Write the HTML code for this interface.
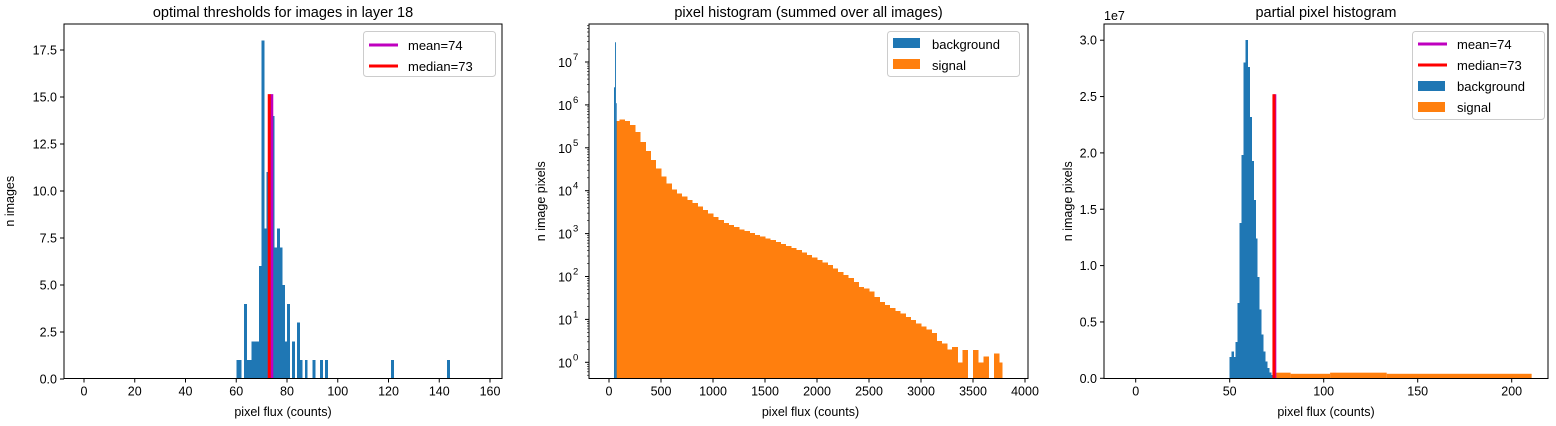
<!DOCTYPE html>
<html><head><meta charset="utf-8">
<style>
html,body{margin:0;padding:0;background:#fff;}
svg{display:block;font-family:"Liberation Sans","DejaVu Sans",sans-serif;}
text{fill:#000;}
rect.bar{shape-rendering:crispEdges;}
</style></head>
<body>
<svg id="fig" width="1556" height="426" viewBox="0 0 1556 426" xmlns="http://www.w3.org/2000/svg"></svg>
<script>
// ---------- Data: panel 1 (thresholds histogram) ----------
const p1BinStarts = [60,61,63,64,65,66,67,68,69,70,71,72,73,74,75,76,77,78,79,80,82,84,85,87,90,93,95,121,143];
const p1Counts    = [1, 1, 4, 1, 1, 2, 2, 2, 6, 18,8, 11,7, 14,7, 8, 7, 5, 2, 4, 2, 3, 1, 1, 1, 1, 1, 1, 1];
const p1Mean = 74, p1Median = 73, p1LineTop = 15.15;
const p1XTicks = [0,20,40,60,80,100,120,140,160];
const p1YTicks = [0,2.5,5,7.5,10,12.5,15,17.5];
// ---------- Data: panel 2 (log histogram; -1 = empty bin) ----------
const p2BgStarts = [48,58,67];
const p2BgLog    = [6.41,7.46,6.04];
const p2SigStarts = [74,100,150,200,250,300,350,400,450,500,550,600,650,700,750,800,850,900,950,1000,1050,1100,1150,1200,1250,1300,1350,1400,1450,1500,1550,1600,1650,1700,1750,1800,1850,1900,1950,2000,2050,2100,2150,2200,2250,2300,2350,2400,2450,2500,2550,2600,2650,2700,2750,2800,2850,2900,2950,3000,3050,3100,3150,3200,3250,3300,3350,3400,3450,3500,3550,3600,3650,3700,3750];
const p2SigLog    = [5.62,5.66,5.63,5.53,5.37,5.14,4.93,4.72,4.52,4.33,4.17,4.03,3.94,3.86,3.78,3.71,3.63,3.55,3.47,3.39,3.32,3.25,3.20,3.15,3.10,3.06,3.01,2.97,2.93,2.89,2.85,2.80,2.76,2.71,2.67,2.62,2.56,2.50,2.44,2.38,2.33,2.27,2.19,2.11,2.03,1.96,1.87,1.76,1.72,1.65,1.52,1.41,1.34,1.26,1.20,1.14,1.06,0.99,0.90,0.83,0.76,0.68,0.50,0.44,0.30,0.36,0.0,0.29,-1,0.29,0.0,0.13,-1,0.20,0.0];
const p2SigEnd = 3780;
const p2XTicks = [0,500,1000,1500,2000,2500,3000,3500,4000];
const p2YDecades = [0,1,2,3,4,5,6,7];
// ---------- Data: panel 3 (partial histogram, units 1e7) ----------
const p3BgStart = 50, p3BgWidth = 1.05;
const p3BgVals = [0.19,0.24,0.19,0.32,0.67,1.38,1.98,2.80,3.00,2.76,2.32,1.93,1.58,1.24,0.90,0.61,0.39,0.24,0.15,0.09,0.05,0.03];
const p3SigEdges = [74,82.4,103.4,133.5,210.6];
const p3SigVals  = [0.05,0.04,0.05,0.04];
const p3Mean = 74, p3Median = 73, p3LineTop = 2.52;
const p3XTicks = [0,50,100,150,200];
const p3YTicks = [0,0.5,1,1.5,2,2.5,3];

const NS="http://www.w3.org/2000/svg";
const svg=document.getElementById('fig');
function el(tag,attrs,parent){const e=document.createElementNS(NS,tag);for(const k in attrs)e.setAttribute(k,attrs[k]);(parent||svg).appendChild(e);return e;}
function txt(s,attrs,parent){const t=el('text',attrs,parent);t.textContent=s;return t;}
const BLUE='#1f77b4',ORANGE='#ff7f0e';
const TOP=24,BOT=378.5;
const FS=12.5;

// ======== Panel 1 ========
(function(){
 const g=el('g',{});
 
 
 const L=64,R=502;
 const x=v=>84+v*2.5375, y=v=>379-v*18.8;
 p1BinStarts.forEach((b,i)=>{
  const r=el('rect',{class:'bar',x:x(b),y:y(p1Counts[i]),width:2.9,height:379-y(p1Counts[i]),fill:BLUE},g);
  
  
 });
 const ml=el('line',{x1:x(p1Mean),x2:x(p1Mean),y1:379,y2:y(p1LineTop),stroke:'#bf00bf','stroke-width':3},g);
 
 const dl=el('line',{x1:x(p1Median),x2:x(p1Median),y1:379,y2:y(p1LineTop),stroke:'#ff0000','stroke-width':3},g);
 
 el('rect',{x:L,y:TOP,width:R-L,height:BOT-TOP,fill:'none',stroke:'#000','stroke-width':1},g);
 p1XTicks.forEach(t=>{el('line',{x1:x(t),x2:x(t),y1:BOT,y2:BOT+4,stroke:'#000'},g);
  const tl=txt(t,{x:x(t),y:BOT+17,'font-size':FS,'text-anchor':'middle'},g);
  });
 p1YTicks.forEach(t=>{el('line',{x1:L-4,x2:L,y1:y(t),y2:y(t),stroke:'#000'},g);
  const tl=txt(t.toFixed(1),{x:L-7,y:y(t)+4.5,'font-size':FS,'text-anchor':'end'},g);
  });
 const ti=txt('optimal thresholds for images in layer 18',{x:(L+R)/2,y:17,'font-size':14.5,'text-anchor':'middle'},g);
 
 const xl=txt('pixel flux (counts)',{x:(L+R)/2,y:416,'font-size':FS,'text-anchor':'middle'},g);
 
 const yl=txt('n images',{x:0,y:0,'font-size':FS,'text-anchor':'middle',transform:'translate(14,'+(TOP+BOT)/2+') rotate(-90)'},g);
 
 const lg=el('g',{},g);
 el('rect',{x:363.5,y:31.5,width:132,height:45,rx:3,fill:'#fff','fill-opacity':0.8,stroke:'#ccc'},lg);
 el('line',{x1:369,x2:398,y1:45,y2:45,stroke:'#bf00bf','stroke-width':3},lg);
 txt('mean=74',{x:408,y:50,'font-size':13},lg);
 el('line',{x1:369,x2:398,y1:66,y2:66,stroke:'#ff0000','stroke-width':3},lg);
 txt('median=73',{x:408,y:71,'font-size':13},lg);
})();

// ======== Panel 2 ========
(function(){
 const g=el('g',{});
 
 
 const L=589,R=1028;
 const x=v=>609+v*0.104, y=lv=>362.3-lv*42.9;
 const ybase=BOT;
 for(let i=0;i<p2SigStarts.length;i++){
  if(p2SigLog[i]<0) continue;
  const a=p2SigStarts[i], b=(i+1<p2SigStarts.length)?p2SigStarts[i+1]:p2SigEnd;
  const r=el('rect',{class:'bar',x:x(a),y:y(p2SigLog[i]),width:x(b)-x(a)+0.4,height:ybase-y(p2SigLog[i]),fill:ORANGE},g);
  
 }
 for(let i=0;i<p2BgStarts.length;i++){
  const a=p2BgStarts[i], b=(i+1<p2BgStarts.length)?p2BgStarts[i+1]:74;
  const r=el('rect',{x:x(a),y:y(p2BgLog[i]),width:x(b)-x(a),height:ybase-y(p2BgLog[i]),fill:BLUE},g);
  
 }
 el('rect',{x:L,y:TOP,width:R-L,height:BOT-TOP,fill:'none',stroke:'#000'},g);
 p2XTicks.forEach(t=>{el('line',{x1:x(t),x2:x(t),y1:BOT,y2:BOT+4,stroke:'#000'},g);
  const tl=txt(t,{x:x(t),y:BOT+17,'font-size':FS,'text-anchor':'middle'},g);
  });
 for(let d=-1;d<=7;d++){
  for(let m=2;m<=9;m++){const yy=y(d+Math.log10(m));if(yy>TOP&&yy<BOT)el('line',{x1:L-2,x2:L,y1:yy,y2:yy,stroke:'#000','stroke-width':0.6},g);}
 }
 p2YDecades.forEach(d=>{el('line',{x1:L-4,x2:L,y1:y(d),y2:y(d),stroke:'#000'},g);
  const t=txt('10',{x:L-17,y:y(d)+5,'font-size':FS,'text-anchor':'end'},g);
  
  txt(d,{x:L-16,y:y(d)-2,'font-size':9.5},g);});
 const ti=txt('pixel histogram (summed over all images)',{x:(L+R)/2,y:17,'font-size':14.5,'text-anchor':'middle'},g);
 
 const xl=txt('pixel flux (counts)',{x:(L+R)/2+2,y:416,'font-size':FS,'text-anchor':'middle'},g);
 
 const yl=txt('n image pixels',{x:0,y:0,'font-size':FS,'text-anchor':'middle',transform:'translate(545,'+(TOP+BOT)/2+') rotate(-90)'},g);
 
 const lg=el('g',{},g);
 el('rect',{x:887.5,y:31.5,width:132,height:45,rx:3,fill:'#fff','fill-opacity':0.8,stroke:'#ccc'},lg);
 el('rect',{x:893,y:38,width:27,height:10,fill:BLUE},lg);
 txt('background',{x:932,y:49,'font-size':13},lg);
 el('rect',{x:893,y:59,width:27,height:10,fill:ORANGE},lg);
 txt('signal',{x:932,y:70,'font-size':13},lg);
})();

// ======== Panel 3 ========
(function(){
 const g=el('g',{});
 
 
 const L=1104,R=1548;
 const x=v=>1135.7+v*1.88, y=v=>378.3-v*112.7;
 p3BgVals.forEach((v,i)=>{
  const a=p3BgStart+i*p3BgWidth;
  const r=el('rect',{class:'bar',x:x(a),y:y(v),width:p3BgWidth*1.88+0.4,height:378.3-y(v),fill:BLUE},g);
  
 });
 p3SigVals.forEach((v,i)=>{
  const a=p3SigEdges[i],b=p3SigEdges[i+1];
  const r=el('rect',{x:x(a),y:y(v),width:x(b)-x(a),height:378.3-y(v),fill:ORANGE},g);
  
 });
 const ml=el('line',{x1:x(p3Mean),x2:x(p3Mean),y1:378.3,y2:y(p3LineTop),stroke:'#bf00bf','stroke-width':3},g);
 
 const dl=el('line',{x1:x(p3Median)+1,x2:x(p3Median)+1,y1:378.3,y2:y(p3LineTop),stroke:'#ff0000','stroke-width':3},g);
 
 el('rect',{x:L,y:TOP,width:R-L,height:BOT-TOP,fill:'none',stroke:'#000'},g);
 p3XTicks.forEach(t=>{el('line',{x1:x(t),x2:x(t),y1:BOT,y2:BOT+4,stroke:'#000'},g);
  const tl=txt(t,{x:x(t),y:BOT+17,'font-size':FS,'text-anchor':'middle'},g);
  });
 p3YTicks.forEach(t=>{el('line',{x1:L-4,x2:L,y1:y(t),y2:y(t),stroke:'#000'},g);
  const tl=txt(t.toFixed(1),{x:L-7,y:y(t)+4.5,'font-size':FS,'text-anchor':'end'},g);
  });
 txt('1e7',{x:L,y:20,'font-size':FS},g);
 const ti=txt('partial pixel histogram',{x:(L+R)/2,y:17,'font-size':14.5,'text-anchor':'middle'},g);
 
 const xl=txt('pixel flux (counts)',{x:(L+R)/2,y:416,'font-size':FS,'text-anchor':'middle'},g);
 
 const yl=txt('n image pixels',{x:0,y:0,'font-size':FS,'text-anchor':'middle',transform:'translate(1072,'+(TOP+BOT)/2+') rotate(-90)'},g);
 
 const lg=el('g',{},g);
 el('rect',{x:1412.5,y:31.5,width:132,height:88,rx:3,fill:'#fff','fill-opacity':0.8,stroke:'#ccc'},lg);
 el('line',{x1:1418,x2:1447,y1:44,y2:44,stroke:'#bf00bf','stroke-width':3},lg);
 txt('mean=74',{x:1457,y:49,'font-size':13},lg);
 el('line',{x1:1418,x2:1447,y1:65,y2:65,stroke:'#ff0000','stroke-width':3},lg);
 txt('median=73',{x:1457,y:70,'font-size':13},lg);
 el('rect',{x:1418,y:81,width:27,height:10,fill:BLUE},lg);
 txt('background',{x:1457,y:91,'font-size':13},lg);
 el('rect',{x:1418,y:102,width:27,height:10,fill:ORANGE},lg);
 txt('signal',{x:1457,y:112,'font-size':13},lg);
})();
</script>
</body></html>
